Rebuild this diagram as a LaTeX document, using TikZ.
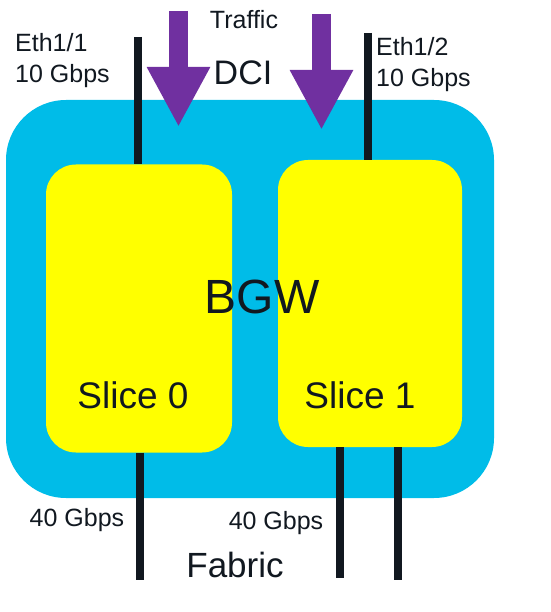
\documentclass[tikz,border=0pt]{standalone}
\usepackage{fontspec}
\setmainfont{Liberation Sans}
\usetikzlibrary{positioning}
\usetikzlibrary{arrows.meta}
\definecolor{bgwblue}{RGB}{0,188,232}
\definecolor{flowpurple}{RGB}{112,48,160}
\definecolor{wireblack}{RGB}{17,24,32}
\definecolor{sliceyellow}{RGB}{255,255,0}
\tikzset{x=1pt, y=-1pt,
  every node/.style={align=center, inner sep=0pt, text=wireblack},
  bgwbox/.style={ % the switch itself
    rectangle, rounded corners=60pt, fill=bgwblue,
    minimum width=488pt, minimum height=398pt},
  slicebox/.style={
    rectangle, rounded corners=30pt, fill=sliceyellow,
    minimum width=186pt, minimum height=288pt},
  wire/.style={draw=wireblack, line width=8pt},
  flow/.style={draw=flowpurple, line width=19pt,
    -{Triangle[width=59pt,length=60pt]}},
  portlabel/.style={align=left, font=\fontsize{25}{31}\selectfont}}

\begin{document}
\begin{tikzpicture}
  \useasboundingbox (0,0) rectangle (550,612);

  \node [bgwbox] (bgw) at (250,299) {};
  \node [slicebox] (slice0) at (139,308.5) {};
  \node [slicebox, minimum width=184pt, minimum height=287pt] (slice1) at (370,303.5) {};

  \node [font=\fontsize{48}{50}\selectfont] (bgwtext) at (262,297) {BGW};
  \node [font=\fontsize{37}{40}\selectfont] (slice0text) at (133,395) {Slice 0};
  \node [font=\fontsize{37}{40}\selectfont] (slice1text) at (360,395) {Slice 1};

  % DCI side
  \coordinate (eth1top) at (138,37);
  \coordinate (eth2top) at (368,33);
  \draw [wire] (eth1top) -- (eth1top |- slice0.north);
  \draw [wire] (eth2top) -- (eth2top |- slice1.north);

  \node [portlabel, anchor=west] (eth1) at (15,61) {Eth1/1\\10 Gbps};
  \node [portlabel, anchor=west] (eth2) at (376,65) {Eth1/2\\10 Gbps};

  \coordinate (flowLtop) at (178.5,11);
  \coordinate (flowLtip) at (178.5,127);
  \coordinate (flowRtop) at (321.5,14);
  \coordinate (flowRtip) at (321.5,130);
  \draw [flow] (flowLtop) -- (flowLtip);
  \draw [flow] (flowRtop) -- (flowRtip);

  \node [font=\fontsize{25}{27}\selectfont] (traffic) at (244,20) {Traffic};
  \node [font=\fontsize{34}{36}\selectfont] (dci) at (243,73) {DCI};

  % Fabric side
  \coordinate (fab0) at (140,580);
  \coordinate (fab1) at (340,578);
  \coordinate (fab2) at (398,580);
  \draw [wire] (fab0 |- slice0.south) -- (fab0);
  \draw [wire] (fab1 |- slice1.south) -- (fab1);
  \draw [wire] (fab2 |- slice1.south) -- (fab2);

  \node [font=\fontsize{25}{27}\selectfont] (gbps0) at (77,520.5) {40 Gbps};
  \node [font=\fontsize{25}{27}\selectfont] (gbps1) at (276,523.5) {40 Gbps};
  \node [font=\fontsize{35}{37}\selectfont] (fabric) at (235,565) {Fabric};
\end{tikzpicture}
\end{document}
